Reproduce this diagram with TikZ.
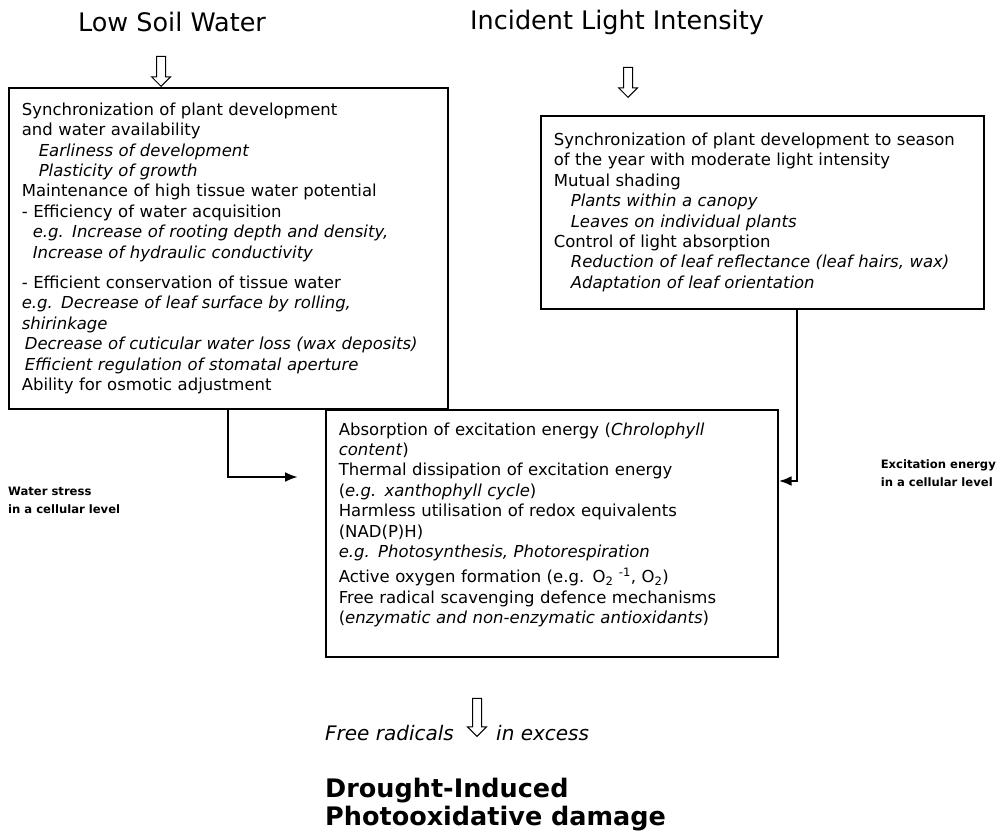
\documentclass[tikz,border=0pt]{standalone}
\usepackage{fontspec}
\setmainfont{DejaVu Sans}
\usetikzlibrary{calc,positioning,shapes.arrows,arrows.meta}

\begin{document}
\begin{tikzpicture}[x=1pt,y=-1pt,
  box/.style={draw,line width=1.6pt,anchor=north west,align=left,
    inner xsep=13pt,inner ysep=0pt,font=\fontsize{16.5}{20.4}\selectfont},
  heading/.style={font=\fontsize{25.5}{30}\selectfont,inner sep=0pt},
  hollow/.style={single arrow,draw,line width=1pt,fill=white,inner sep=4pt,
    minimum height=30pt,single arrow head extend=5pt,
    single arrow head indent=0pt,rotate=-90,anchor=tip},
  elbow/.style={line width=2.8pt,-{Latex[length=13pt,width=10pt]}},
  lbl/.style={font=\bfseries\fontsize{11.6}{18}\selectfont,align=left,
    anchor=west,inner sep=0pt},
  remark/.style={font=\itshape\fontsize{20}{24}\selectfont,inner sep=0pt}]
\def\ind{\hspace*{17pt}}

\useasboundingbox (0,0) rectangle (1003,835);

\node[heading] (lowsoil) at (172,22) {Low Soil Water};
\node[heading,anchor=west] (light) at (470,22) {Incident Light Intensity};

\node[box,text width=413pt,minimum height=321pt] (soilbox) at (8,87) {%
Synchronization of plant development\\
and water availability\\
\ind\textit{Earliness of development}\\
\ind\textit{Plasticity of growth}\\
Maintenance of high tissue water potential\\
- Efficiency of water acquisition\\
\hspace*{11pt}\textit{e.g. Increase of rooting depth and density,}\\
\hspace*{11pt}\textit{Increase of hydraulic conductivity}\\[10pt]
- Efficient conservation of tissue water\\
\textit{e.g. Decrease of leaf surface by rolling,}\\
\textit{shirinkage}\\
\hspace*{3pt}\textit{Decrease of cuticular water loss (wax deposits)}\\
\hspace*{3pt}\textit{Efficient regulation of stomatal aperture}\\
Ability for osmotic adjustment};

\node[box,text width=417pt,minimum height=193pt] (lightbox) at (540,115) {%
Synchronization of plant development to season\\
of the year with moderate light intensity\\
Mutual shading\\
\ind\textit{Plants within a canopy}\\
\ind\textit{Leaves on individual plants}\\
Control of light absorption\\
\ind\textit{Reduction of leaf reflectance (leaf hairs, wax)}\\
\ind\textit{Adaptation of leaf orientation}};

\node[box,text width=426pt,minimum height=247pt] (midbox) at (325,409) {%
Absorption of excitation energy (\textit{Chrolophyll}\\
\textit{content})\\
Thermal dissipation of excitation energy\\
(\textit{e.g. xanthophyll cycle})\\
Harmless utilisation of redox equivalents\\
(NAD(P)H)\\
\textit{e.g. Photosynthesis, Photorespiration}\\[5pt]
Active oxygen formation (e.g. O\textsubscript{2} \textsuperscript{-1}, O\textsubscript{2})\\
Free radical scavenging defence mechanisms\\
(\textit{enzymatic and non-enzymatic antioxidants})\\
\mbox{}};

% hollow arrows
\node[hollow] (soilarr) at ($(soilbox.north west)+(153,0)$) {};
\node[hollow] (lightarr) at ($(lightbox.north west)+(88,-17)$) {};
\node[hollow,minimum height=38pt] (radarr) at (477,737) {};

% cellular level
\coordinate (wsa) at ($(soilbox.south west)+(220,0)$);
\coordinate (wsb) at ($(midbox.north west)+(-27,68)$);
\draw[elbow] (wsa) |- (wsb);
\coordinate (exa) at ($(lightbox.south west)+(257,0)$);
\coordinate (exb) at ($(midbox.north east)+(0,72)$);
\draw[elbow] (exa) |- (exb);

\node[lbl] (wslbl) at (8,500) {Water stress\\in a cellular level};
\node[lbl,anchor=east] (exlbl) at (996,473) {Excitation energy\\in a cellular level};

\node[remark,anchor=west] (freerad) at (325,733) {Free radicals};
\node[remark,anchor=west] (excess) at (496,733) {in excess};

\node[anchor=north west,align=left,inner sep=0pt,
  font=\bfseries\fontsize{25.5}{28}\selectfont] (damage) at (325,778)
  {Drought-Induced\\Photooxidative damage};

\end{tikzpicture}
\end{document}
